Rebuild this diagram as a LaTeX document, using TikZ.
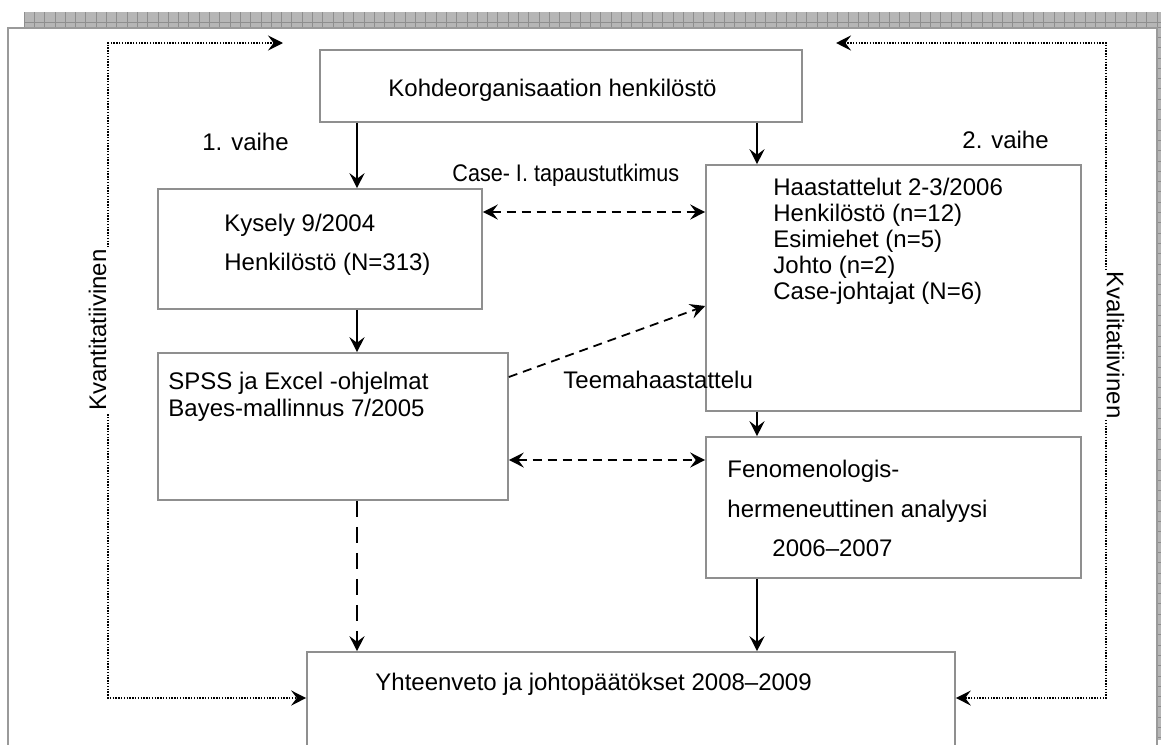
\documentclass[tikz,border=0pt]{standalone}
\usepackage{fontspec}
\setmainfont{Liberation Sans}
\usetikzlibrary{arrows.meta,fit}
\definecolor{boxgray}{HTML}{8F8F8F}
\definecolor{framegray}{HTML}{9A9A9A}
\definecolor{bandfill}{HTML}{B6B6B6}
\definecolor{bandline}{HTML}{8E8E8E}
\begin{document}
\begin{tikzpicture}[x=0.5pt,y=-0.5pt,
  box/.style={draw=boxgray,line width=0.8pt,inner sep=0pt},
  txt/.style={anchor=base west,inner sep=0pt,font=\fontsize{12}{14}\selectfont},
  lbl/.style={inner sep=0pt,font=\fontsize{12}{14}\selectfont},
  tip/.style={-{Stealth[length=7.5pt,width=7.5pt,inset=2.8pt]}},
  tips/.style={{Stealth[length=7.5pt,width=7.5pt,inset=2.8pt]}-{Stealth[length=7.5pt,width=7.5pt,inset=2.8pt]}},
  solidline/.style={line width=1pt},
  dashline/.style={line width=0.9pt,dash pattern=on 4.5pt off 3pt},
  longdash/.style={line width=1pt,dash pattern=on 8pt off 5pt},
  dotline/.style={line width=1pt,dash pattern=on 0.7pt off 0.7pt}]
\useasboundingbox (0,0) rectangle (1161,744);
\clip (0,0) rectangle (1161,744);

% shadow band of the outer frame
\fill[bandfill] (24,12) rectangle (1161,27);
\fill[bandfill] (1157,12) rectangle (1161,740);
\foreach \i in {0,...,110}
  \draw[bandline,line width=0.35pt] ({24+10.3*\i},12) -- ({24+10.3*\i},27);
\draw[bandline,line width=0.5pt] (24,22.5) -- (1161,22.5);
\foreach \j in {0,...,70}
  \draw[bandline,line width=0.35pt] (1157,{27+10.3*\j}) -- (1161,{27+10.3*\j});
% outer frame
\draw[framegray,line width=0.9pt] (8,770) -- (8,28) -- (1157,28) -- (1157,770);

% boxes
\node[box,fit={(320,50) (802,122)}] (kohde) {};
\node[box,fit={(158,189) (482,309)}] (kysely) {};
\node[box,fit={(706,165) (1081,411)}] (haast) {};
\node[box,fit={(158,353) (508,500)}] (spss) {};
\node[box,fit={(706,437) (1081,578)}] (fenom) {};
\node[box,fit={(307,652) (955,790)}] (yht) {};

% box texts
\node[txt] (t-kohde) at (388,96.5) {Kohdeorganisaation henkilöstö};
\node[txt] (t-kys1) at (224,231.5) {Kysely 9/2004};
\node[txt] (t-kys2) at (224,270.5) {Henkilöstö (N=313)};
\node[txt] (t-h1) at (773,195.5) {Haastattelut 2-3/2006};
\node[txt] (t-h2) at (773,221.5) {Henkilöstö (n=12)};
\node[txt] (t-h3) at (773,247.5) {Esimiehet (n=5)};
\node[txt] (t-h4) at (773,273.5) {Johto (n=2)};
\node[txt] (t-h5) at (773,299.5) {Case-johtajat (N=6)};
\node[txt] (t-s1) at (168,389.5) {SPSS ja Excel -ohjelmat};
\node[txt] (t-s2) at (168,416.5) {Bayes-mallinnus 7/2005};
\node[txt] (t-f1) at (727,477.5) {Fenomenologis-};
\node[txt] (t-f2) at (727,517.5) {hermeneuttinen analyysi};
\node[txt] (t-f3) at (772,556.5) {2006–2007};
\node[txt] (t-y) at (375,690.5) {Yhteenveto ja johtopäätökset 2008–2009};

% free labels
\node[txt] (vaihe1) at (202,150.5) {1. vaihe};
\node[txt] (vaihe2) at (962,148.5) {2. vaihe};
\node[txt] (case) at (452,181.5) {\scalebox{0.9}[1]{Case- I. tapaustutkimus}};

% column positions of the vertical arrows
\coordinate (cl) at (357,0);
\coordinate (cr) at (757,0);

% solid flow
\draw[solidline,tip] (kohde.south -| cl) -- (kysely.north -| cl);
\draw[solidline,tip] (kohde.south -| cr) -- (haast.north -| cr);
\draw[solidline,tip] (kysely.south -| cl) -- (spss.north -| cl);
\draw[solidline,tip] (haast.south -| cr) -- (fenom.north -| cr);
\draw[solidline,tip] (fenom.south -| cr) -- (yht.north -| cr);
\draw[longdash,tip] (spss.south -| cl) -- (yht.north -| cl);

% dashed cross links
\coordinate (r1) at (0,212);
\coordinate (r2) at (0,460);
\coordinate (s1) at (0,377);
\coordinate (h1) at (0,306);
\draw[dashline,tips] (kysely.east |- r1) -- (haast.west |- r1);
\draw[dashline,tips] (spss.east |- r2) -- (fenom.west |- r2);
\draw[dashline,tip] (spss.east |- s1) -- (haast.west |- h1);
\node[txt] (teema) at (563,388.5) {Teemahaastattelu};

% dotted feedback loops
\coordinate (lt) at (283,43);
\coordinate (lc) at (108,43);
\coordinate (lb) at (108,698);
\coordinate (rt) at (836,43);
\coordinate (rc) at (1106,43);
\coordinate (rb) at (1106,698);
\draw[dotline,tips] (lt) -- (lc) -- (lb) -- (yht.west |- lb);
\draw[dotline,tips] (rt) -- (rc) -- (rb) -- (yht.east |- rb);
\node[lbl,fill=white,rotate=90,inner xsep=1pt,inner ysep=2pt] (kvant) at (97.5,330) {Kvantitatiivinen};
\node[lbl,fill=white,rotate=-90,inner xsep=1pt,inner ysep=2pt] (kval) at (1115.5,345) {Kvalitatiivinen};
\end{tikzpicture}
\end{document}
